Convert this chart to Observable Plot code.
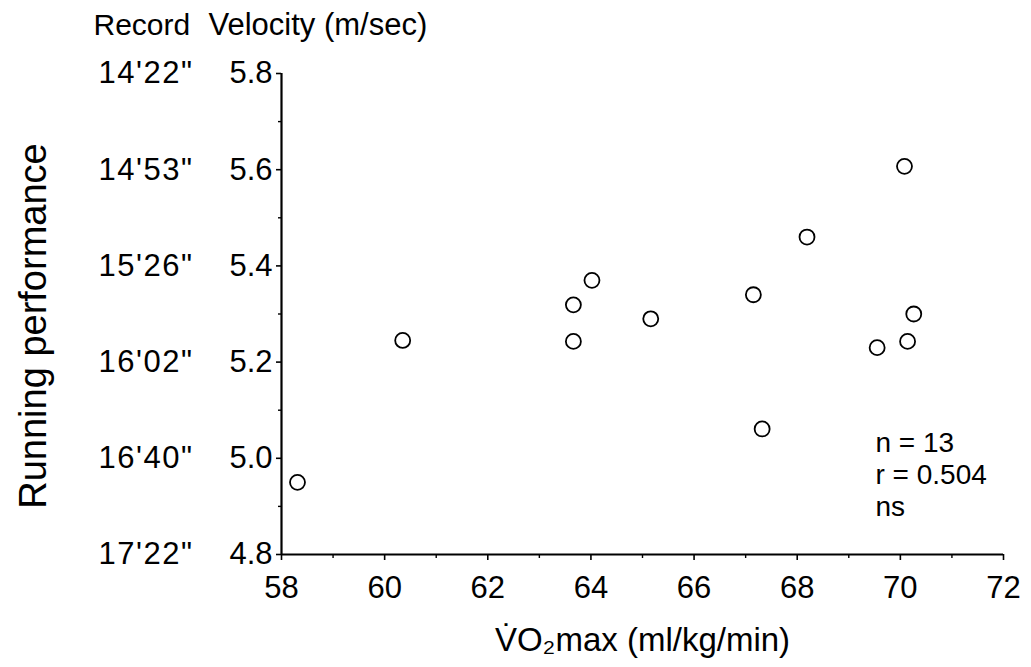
<!DOCTYPE html>
<html>
<head>
<meta charset="utf-8">
<script src="https://cdn.jsdelivr.net/npm/d3@7"></script>
<script src="https://cdn.jsdelivr.net/npm/@observablehq/plot@0.6"></script>
<style>
  html, body { margin: 0; padding: 0; background: white; }
</style>
</head>
<body>
<div id="chart"></div>
<script>
// Data
const vo2max   = [58.31, 60.35, 63.66, 63.66, 64.02, 65.16, 67.15, 67.32, 68.19, 69.55, 70.08, 70.14, 70.26];
const velocity = [4.95, 5.245, 5.319, 5.243, 5.37, 5.29, 5.34, 5.061, 5.46, 5.23, 5.607, 5.243, 5.30];

const xTicks = [58, 60, 62, 64, 66, 68, 70, 72];
const xMinor = [59, 61, 63, 65, 67, 69, 71];
const velTicks = [4.8, 5.0, 5.2, 5.4, 5.6, 5.8];
const velMinor = [4.9, 5.1, 5.3, 5.5, 5.7];
const recordLabels = ["17'22\"", "16'40\"", "16'02\"", "15'26\"", "14'53\"", "14'22\""];
const statsLines = ["n = 13", "r = 0.504", "ns"];

const data = vo2max.map((v, i) => ({vo2: v, vel: velocity[i]}));

const recordFor = d => {
  let best = 0;
  velTicks.forEach((t, i) => { if (Math.abs(t - d) < Math.abs(velTicks[best] - d)) best = i; });
  return recordLabels[best];
};

const tickFont = 31;

const chart = Plot.plot({
  width: 1031,
  height: 667,
  marginLeft: 281,
  marginRight: 28,
  marginTop: 73,
  marginBottom: 113,
  x: {domain: [58, 72]},
  y: {domain: [4.8, 5.8]},
  style: {fontFamily: "'Liberation Sans', Arial, sans-serif", fontSize: "28px", color: "black", background: "white"},
  marks: [
    Plot.axisX({ticks: xTicks, tickSize: 6, tickPadding: 15, label: null, strokeWidth: 1.6, fontSize: tickFont}),
    Plot.axisX({ticks: xMinor, tickSize: 4, text: null, label: null, strokeWidth: 1.4}),
    Plot.axisY({ticks: velTicks, tickSize: 5, tickPadding: 4, tickFormat: d => d.toFixed(1), label: null, strokeWidth: 1.6, fontSize: tickFont}),
    Plot.axisY({ticks: velMinor, tickSize: 3, text: null, label: null, strokeWidth: 1.4}),
    Plot.axisY({ticks: velTicks, tickSize: 0, tickPadding: 88, tickFormat: recordFor, label: null, fontSize: tickFont}),
    Plot.ruleX([58], {strokeWidth: 2.2}),
    Plot.ruleY([4.8], {strokeWidth: 2.2}),
    Plot.dot(data, {x: "vo2", y: "vel", r: 7.5, stroke: "black", strokeWidth: 1.8, fill: "white"}),
    Plot.text(["Record"], {frameAnchor: "top-left", dx: -188, dy: -48, textAnchor: "start", lineAnchor: "middle", fontSize: 30}),
    Plot.text(["Velocity (m/sec)"], {frameAnchor: "top-left", dx: -73, dy: -48, textAnchor: "start", lineAnchor: "middle", fontSize: 31}),
    Plot.text(["Running performance"], {frameAnchor: "left", dx: -248, dy: 12, rotate: -90, textAnchor: "middle", lineAnchor: "middle", fontSize: 38}),
    Plot.text(["V\u0307O\u2082max (ml/kg/min)"], {frameAnchor: "bottom", dy: 86, lineAnchor: "middle", fontSize: 33}),
    Plot.text([statsLines.join("\n")], {frameAnchor: "top-right", dx: -128, dy: 400, textAnchor: "start", lineAnchor: "middle", lineHeight: 1.15, fontSize: 28})
  ]
});

document.getElementById("chart").appendChild(chart);
// widen the record-time labels slightly, as in the original typesetting
d3.select(chart).selectAll("text").filter(function() { return this.textContent.includes("'"); })
  .style("letter-spacing", "1.5px");
</script>
</body>
</html>
